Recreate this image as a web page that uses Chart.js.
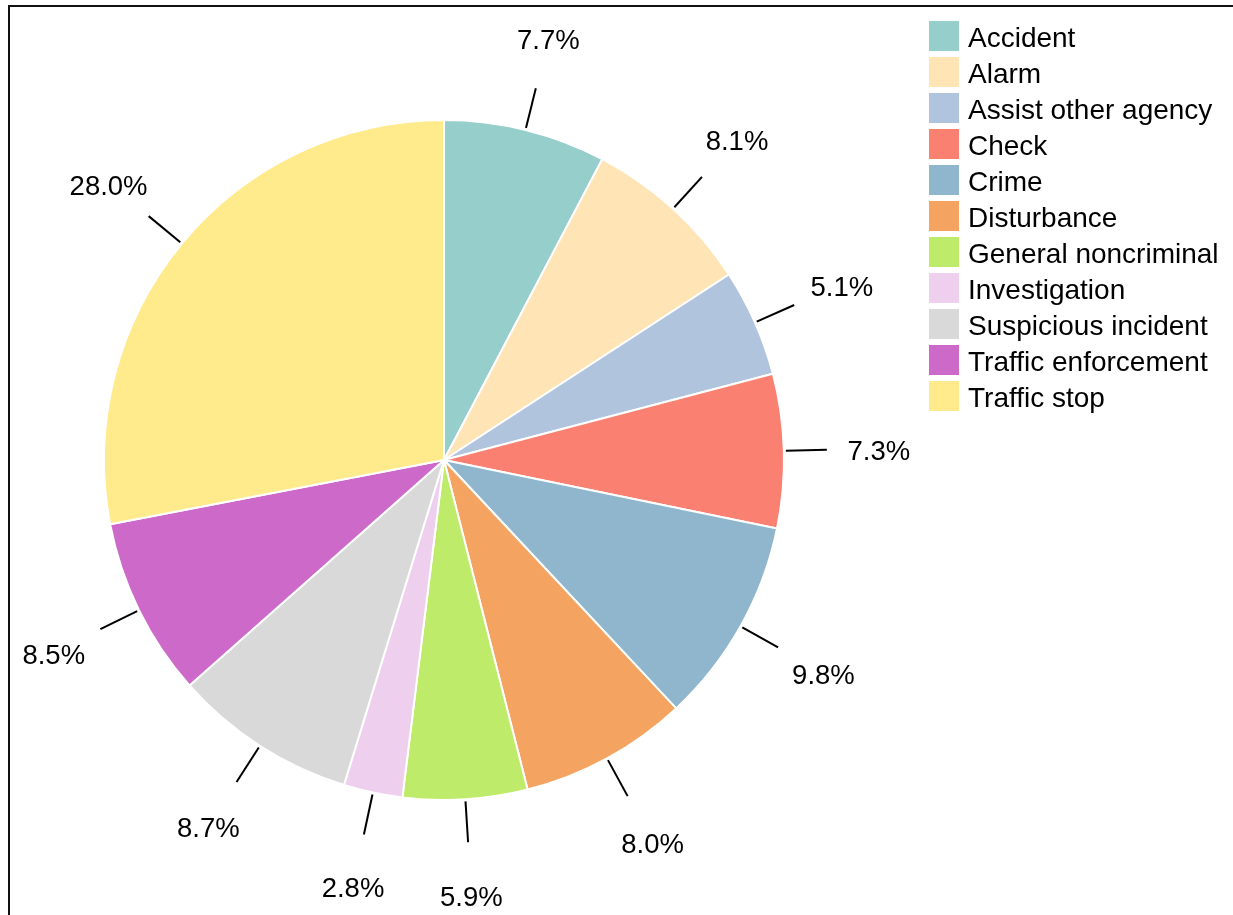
<!DOCTYPE html>
<html>
<head>
<meta charset="utf-8">
<title>Calls by type</title>
<script src="https://cdn.jsdelivr.net/npm/chart.js@4.4.1/dist/chart.umd.min.js"></script>
<style>
    html, body { margin: 0; padding: 0; background: #ffffff; }
    #wrap { width: 1233px; height: 915px; position: relative; }
</style>
</head>
<body>
<div id="wrap"><canvas id="call-pie"></canvas></div>
<script>
// Share of calls by type (percent)
const categories = ['Accident', 'Alarm', 'Assist other agency', 'Check', 'Crime', 'Disturbance',
    'General noncriminal', 'Investigation', 'Suspicious incident', 'Traffic enforcement', 'Traffic stop'];
const shares = [7.7, 8.1, 5.1, 7.3, 9.8, 8.0, 5.9, 2.8, 8.7, 8.5, 28.0];
const sliceColors = ['#96CECB', '#FFE4B5', '#B0C4DE', '#FA8072', '#8FB6CC', '#F4A460',
    '#BEEB69', '#EED0EE', '#D9D9D9', '#CC69C9', '#FFEB8C'];

const FONT = '"Liberation Sans", Arial, sans-serif';

document.addEventListener('DOMContentLoaded', function() {
    // Percent labels with short leader ticks outside each slice
    const outsideLabels = {
        id: 'outsideLabels',
        afterDatasetsDraw(chart) {
            const ctx = chart.ctx;
            const arcs = chart.getDatasetMeta(0).data;
            ctx.save();
            ctx.strokeStyle = '#000000';
            ctx.lineWidth = 2;
            ctx.fillStyle = '#000000';
            ctx.font = '27.5px ' + FONT;
            ctx.textAlign = 'center';
            ctx.textBaseline = 'middle';
            arcs.forEach((arc, i) => {
                const p = arc.getProps(['x', 'y', 'startAngle', 'endAngle', 'outerRadius'], true);
                const mid = (p.startAngle + p.endAngle) / 2;
                const cos = Math.cos(mid), sin = Math.sin(mid);
                const r0 = p.outerRadius + 2, r1 = p.outerRadius + 43, rt = p.outerRadius + 95;
                ctx.beginPath();
                ctx.moveTo(p.x + cos * r0, p.y + sin * r0);
                ctx.lineTo(p.x + cos * r1, p.y + sin * r1);
                ctx.stroke();
                ctx.fillText(shares[i].toFixed(1) + '%', p.x + cos * rt, p.y + sin * rt + 4);
            });
            ctx.restore();
        }
    };

    // Legend column and panel frame
    const sideLegend = {
        id: 'sideLegend',
        afterDraw(chart) {
            const ctx = chart.ctx;
            ctx.save();
            ctx.font = '28px ' + FONT;
            ctx.textAlign = 'left';
            ctx.textBaseline = 'middle';
            categories.forEach((name, i) => {
                const top = 21 + i * 36;
                ctx.fillStyle = sliceColors[i];
                ctx.fillRect(929, top, 30, 30);
                ctx.fillStyle = '#000000';
                ctx.fillText(name, 968, top + 18);
            });
            ctx.strokeStyle = '#111111';
            ctx.lineWidth = 2;
            ctx.strokeRect(9, 6, 1400, 1100);
            ctx.restore();
        }
    };

    new Chart(document.getElementById('call-pie'), {
        type: 'pie',
        data: {
            labels: categories,
            datasets: [{
                data: shares,
                backgroundColor: sliceColors,
                borderColor: '#ffffff',
                borderWidth: 2,
                hoverOffset: 0
            }]
        },
        options: {
            responsive: true,
            maintainAspectRatio: false,
            animation: false,
            radius: 340,
            layout: {
                padding: { left: 0, right: 345, top: 5, bottom: 0 }
            },
            plugins: {
                legend: { display: false },
                tooltip: { enabled: false }
            }
        },
        plugins: [outsideLabels, sideLegend]
    });
});
</script>
</body>
</html>
